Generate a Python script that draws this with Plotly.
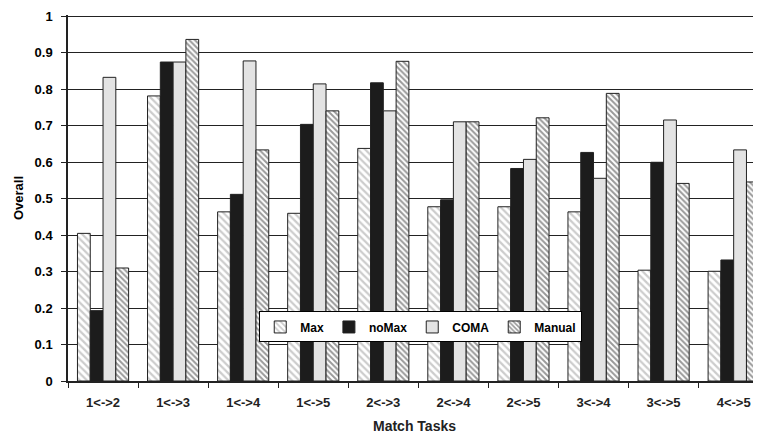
import plotly.graph_objects as go

categories = ["1<->2", "1<->3", "1<->4", "1<->5", "2<->3", "2<->4", "2<->5", "3<->4", "3<->5", "4<->5"]
max_vals = [0.405, 0.782, 0.464, 0.460, 0.638, 0.478, 0.478, 0.464, 0.304, 0.301]
nomax_vals = [0.193, 0.875, 0.512, 0.704, 0.818, 0.497, 0.583, 0.627, 0.600, 0.332]
coma_vals = [0.833, 0.875, 0.878, 0.815, 0.741, 0.711, 0.608, 0.556, 0.716, 0.634]
manual_vals = [0.310, 0.937, 0.634, 0.741, 0.877, 0.711, 0.722, 0.789, 0.542, 0.546]
series_names = ["Max", "noMax", "COMA", "Manual"]
y_ticks = [0, 0.1, 0.2, 0.3, 0.4, 0.5, 0.6, 0.7, 0.8, 0.9, 1]
y_tick_text = ["0", "0.1", "0.2", "0.3", "0.4", "0.5", "0.6", "0.7", "0.8", "0.9", "1"]

font_family = "Liberation Sans, Arial, sans-serif"
line = dict(color="#222222", width=1)

fig = go.Figure()
fig.add_trace(go.Bar(
    name=series_names[0], x=categories, y=max_vals,
    marker=dict(color="white", line=line,
                pattern=dict(shape="\\", fgcolor="#9a9a9a", bgcolor="white", size=5, solidity=0.45)),
))
fig.add_trace(go.Bar(
    name=series_names[1], x=categories, y=nomax_vals,
    marker=dict(color="#1c1c1c", line=line),
))
fig.add_trace(go.Bar(
    name=series_names[2], x=categories, y=coma_vals,
    marker=dict(color="#e3e3e3", line=line),
))
fig.add_trace(go.Bar(
    name=series_names[3], x=categories, y=manual_vals,
    marker=dict(color="white", line=line,
                pattern=dict(shape="\\", fgcolor="#333333", bgcolor="white", size=4, solidity=0.5)),
))

# page body has an 8px default margin, so the figure is sized to fit the window
fig.update_layout(
    width=753, height=428,
    margin=dict(l=60, r=0, t=7, b=55, autoexpand=False),
    paper_bgcolor="white", plot_bgcolor="white",
    barmode="group", bargap=0.27, bargroupgap=0,
    font=dict(family=font_family, color="black", size=13),
    showlegend=True,
    legend=dict(
        orientation="h", x=0.509, y=0.19, xanchor="center", yanchor="top",
        bgcolor="white", bordercolor="black", borderwidth=1,
        font=dict(family=font_family, size=12, color="black", weight="bold"),
        itemwidth=30, tracegroupgap=0, traceorder="normal",
    ),
    xaxis=dict(
        range=[-0.5, 9.39], showline=True, linecolor="#222222", linewidth=1.5,
        ticks="outside", tickson="boundaries", ticklen=5, tickcolor="#222222",
        tickfont=dict(family=font_family, size=13, color="#222222", weight="bold"),
        ticklabelstandoff=9,
        title=dict(text="Match Tasks", font=dict(family=font_family, size=14, color="#222222", weight="bold"), standoff=12),
        showgrid=False, fixedrange=True, automargin=False,
    ),
    yaxis=dict(
        range=[0, 1.004], tickvals=y_ticks, ticktext=y_tick_text,
        showline=True, linecolor="#222222", linewidth=1.5,
        ticks="outside", ticklen=5, tickcolor="#222222",
        ticklabelstandoff=6, ticklabeloverflow="allow",
        showgrid=True, gridcolor="#222222", gridwidth=1,
        tickfont=dict(family=font_family, size=13, color="black", weight="bold"),
        title=dict(text="Overall", font=dict(family=font_family, size=13, weight="bold"), standoff=8),
        zeroline=False, automargin=False,
    ),
)

fig.write_html("out.html")
